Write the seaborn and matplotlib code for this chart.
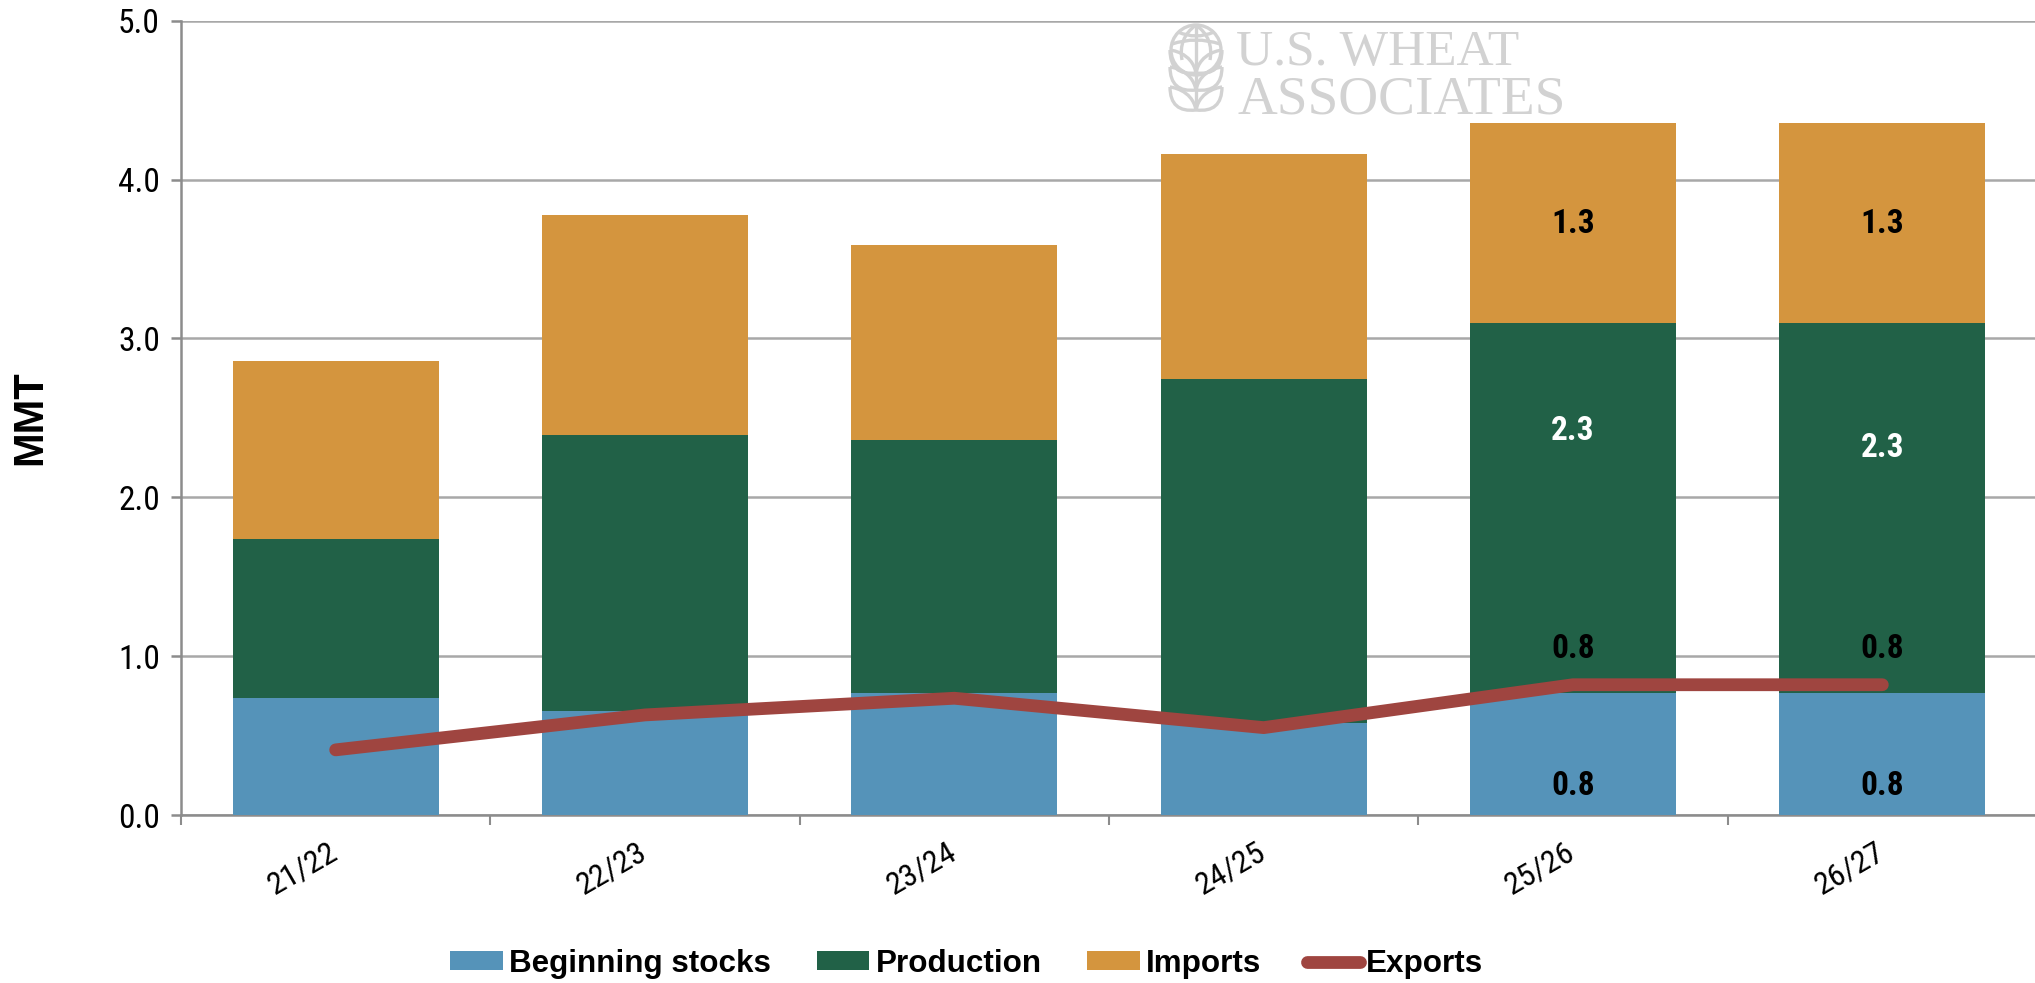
import matplotlib
matplotlib.use("Agg")
import matplotlib.pyplot as plt
import seaborn as sns
import pandas as pd
from matplotlib.patches import Circle, PathPatch, Patch
from matplotlib.path import Path
from matplotlib.lines import Line2D
from matplotlib.transforms import Affine2D
from matplotlib import font_manager as fm

years = ["21/22", "22/23", "23/24", "24/25", "25/26", "26/27"]
beginning = [0.735, 0.655, 0.77, 0.58, 0.77, 0.77]
production = [1.005, 1.735, 1.59, 2.165, 2.33, 2.33]
imports = [1.12, 1.39, 1.23, 1.415, 1.255, 1.255]
exports = [0.41, 0.63, 0.735, 0.55, 0.82, 0.82]
value_labels = ["0.8", "2.3", "1.3", "0.8"]

BLUE, GREEN, ORANGE, RED = "#5593b9", "#216147", "#d4953e", "#9f4540"
GRID, AXIS, WM = "#a8a8a8", "#8c8c8c", "#d2d2d2"

sns.set_theme(style="white")
names = {f.name for f in fm.fontManager.ttflist}
NARROW = next((n for n in ("Roboto Condensed", "Liberation Sans Narrow", "Archivo Narrow", "Roboto") if n in names))
plt.rcParams["font.family"] = [NARROW, "DejaVu Sans"]

W, H = 2035, 983
fig = plt.figure(figsize=(W / 100, H / 100), dpi=100, facecolor="white")
ax = fig.add_axes([181 / W, 1 - 815 / H, 1856 / W, (815 - 20.7) / H])

df = pd.DataFrame({"year": years, "b": beginning, "p": production, "i": imports, "e": exports})
df["bp"] = df.b + df.p
bar_kw = dict(x="year", width=0.666, saturation=1, ax=ax, zorder=3, linewidth=0, edgecolor="none")
sns.barplot(data=df, y="b", color=BLUE, **bar_kw)
sns.barplot(data=df, y="p", bottom=df.b, color=GREEN, **bar_kw)
sns.barplot(data=df, y="i", bottom=df.bp, color=ORANGE, **bar_kw)
sns.lineplot(data=df, x="year", y="e", color=RED, lw=9.2, sort=False, ax=ax, zorder=4,
             solid_capstyle="round", solid_joinstyle="round", errorbar=None)

ax.set_xlim(-0.5, 5.5)
ax.set_ylim(0, 5)
ax.set_xlabel("")
ax.set_ylabel("")
ax.set_yticks(range(6))
ax.set_yticklabels([f"{v:.1f}" for v in range(6)], fontsize=24, color="black")
ax.yaxis.grid(True, color=GRID, lw=1.8, zorder=0)
ax.xaxis.grid(False)
ax.set_axisbelow(True)
for s in ("top", "right"):
    ax.spines[s].set_visible(False)
for s in ("left", "bottom"):
    ax.spines[s].set_visible(True)
    ax.spines[s].set_color(AXIS)
    ax.spines[s].set_linewidth(1.8)
ax.tick_params(axis="y", length=7.2, width=1.8, color=AXIS, pad=8, left=True)
ax.set_xticks(range(6))
ax.set_xticks([i - 0.5 for i in range(7)], minor=True)
ax.tick_params(axis="x", which="minor", length=7.2, width=1.5, color=AXIS, bottom=True)
ax.tick_params(axis="x", which="major", length=0, pad=16)
ax.set_xticklabels(years, fontsize=23, rotation=30, ha="right", rotation_mode="anchor", color="black")
for t in ax.get_xticklabels():
    t.set_transform(t.get_transform() + Affine2D().translate(-8, 0))

# value labels on the last two years
for idx, off23 in zip((4, 5), (0.42, 0.31)):
    kw = dict(ha="center", va="center", fontsize=24, fontweight="bold", zorder=6, family=[NARROW])
    ax.text(idx, beginning[idx] / 4 - 0.01, value_labels[0], color="black", **kw)
    ax.text(idx, exports[idx] + 0.225, value_labels[3], color="black", **kw)
    ax.text(idx, 2 + off23, value_labels[1], color="white", **kw)
    ax.text(idx, beginning[idx] + production[idx] + imports[idx] / 2 - 0.01, value_labels[2], color="black", **kw)

# axis title and legend
fig.text(30 / W, 1 - 418 / H, "MMT", rotation=90, ha="center", va="center",
         fontsize=30, fontweight="bold", family=["Liberation Sans"], color="black")
handles = [Patch(color=BLUE, lw=0), Patch(color=GREEN, lw=0), Patch(color=ORANGE, lw=0),
           Line2D([0], [0], color=RED, lw=9.2, solid_capstyle="round")]
leg = fig.legend(handles, ["Beginning stocks", "Production", "Imports", "Exports"], ncol=4, frameon=False,
                 loc="center", bbox_to_anchor=(0.4750, 1 - 964 / H),
                 prop=fm.FontProperties(family="Liberation Sans", weight="bold", size=22.6),
                 handlelength=1.68, handleheight=0.55, handletextpad=0.2, columnspacing=1.45)
for t in leg.get_texts():
    t.set_color("black")

# watermark, placed in pixels
px = Affine2D().scale(1, -1).translate(0, H)
wm = dict(color=WM, family=["Liberation Serif"], va="baseline", ha="left", transform=px, zorder=7)
fig.text(1236, 65, "U.S. WHEAT", fontsize=37, **wm)
fig.text(1238, 114, "ASSOCIATES", fontsize=39.8, **wm)


def stroke(verts, codes=None, lw=2.4):
    fig.add_artist(PathPatch(Path(verts, codes), fc="none", ec=WM, lw=lw, transform=px, zorder=7))


fig.add_artist(Circle((1196, 50), 25, fc="none", ec=WM, lw=2.4, transform=px, zorder=7))
C3 = [Path.MOVETO, Path.CURVE3, Path.CURVE3]
C4 = [Path.MOVETO, Path.CURVE4, Path.CURVE4, Path.CURVE4]
stroke([(1196, 25), (1196, 110)])
stroke([(1172, 44), (1196, 36), (1220, 44)], C3)
stroke([(1178, 32), (1196, 40), (1214, 32)], C3)
stroke([(1196, 25), (1178, 38), (1182, 60)], C3)
stroke([(1196, 25), (1214, 38), (1210, 60)], C3)
for y0 in (50, 67, 87):
    top = y0 + 20
    for sgn in (-1, 1):
        stroke([(1196, top + 3), (1196 + sgn * 4, y0 + 2), (1196 + sgn * 26, y0), (1196 + sgn * 26, y0)], C4)
        stroke([(1196, top + 3), (1196 + sgn * 26, top + 6), (1196 + sgn * 26, y0)], C3)

fig.savefig("out.png", dpi=100)
